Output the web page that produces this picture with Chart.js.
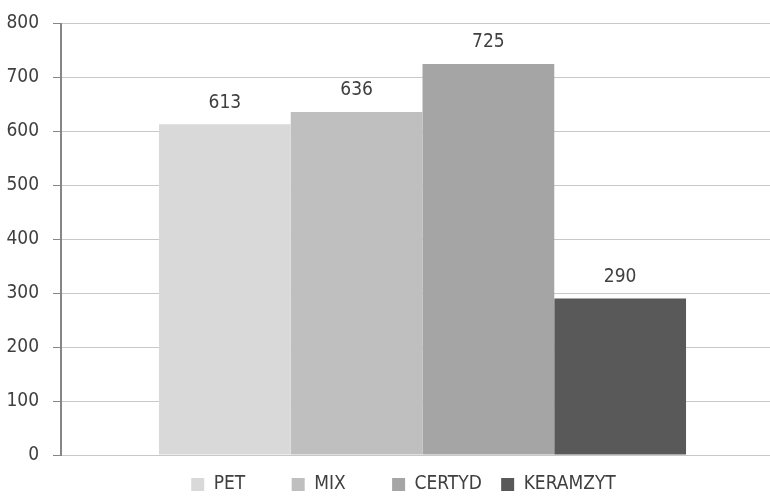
<!DOCTYPE html>
<html>
<head>
<meta charset="utf-8">
<script src="https://cdn.jsdelivr.net/npm/chart.js@4"></script>
<style>
  html, body { margin: 0; padding: 0; background: #fff; overflow: hidden; }
  /* plot area runs a little past the right and bottom edges, as in the reference */
  #wrap { width: 784px; height: 504px; }
</style>
</head>
<body>
<div id="wrap"><canvas id="myChart"></canvas></div>
<script>
// data
const categories = [""];
const seriesNames = ["PET", "MIX", "CERTYD", "KERAMZYT"];
const seriesValues = [613, 636, 725, 290];
const seriesColors = ["#d9d9d9", "#bfbfbf", "#a5a5a5", "#595959"];
const yTicks = [0, 100, 200, 300, 400, 500, 600, 700, 800];

const FONT = "'DejaVu Sans Condensed', 'Liberation Sans Narrow', sans-serif";
const TEXT = "#404040";
// extra room after each legend entry (Excel spaces them out wider)
const legendGaps = [8, 8, 3, 7];

// values above bars
const valueLabels = {
	id: "valueLabels",
	afterDatasetsDraw(chart) {
		const ctx = chart.ctx;
		ctx.save();
		ctx.font = "19px " + FONT;
		ctx.fillStyle = TEXT;
		ctx.textAlign = "center";
		ctx.textBaseline = "bottom";
		chart.data.datasets.forEach((ds, i) => {
			chart.getDatasetMeta(i).data.forEach((bar, j) => {
				ctx.fillText(ds.data[j], bar.x, bar.y - 12);
			});
		});
		ctx.restore();
	},
};

const datasets = seriesNames.map((name, i) => ({
	label: name,
	data: [seriesValues[i]],
	backgroundColor: seriesColors[i],
	borderWidth: 0,
	barPercentage: 1,
	categoryPercentage: 0.729,
}));

new Chart(document.getElementById("myChart"), {
	type: "bar",
	data: { labels: categories, datasets: datasets },
	plugins: [valueLabels],
	options: {
		responsive: true,
		maintainAspectRatio: false,
		animation: false,
		layout: { padding: { top: 3, right: 0, bottom: 0, left: 0 } },
		plugins: {
			tooltip: { enabled: false },
			legend: {
				position: "bottom",
				fullSize: false,
				labels: {
					boxWidth: 13,
					boxHeight: 13,
					padding: 3,
					color: TEXT,
					font: { family: FONT, size: 19 },
					generateLabels: (chart) => {
						const items = Chart.defaults.plugins.legend.labels.generateLabels(chart);
						items.forEach((it, i) => { it.text = it.text + " ".repeat(legendGaps[i]); });
						return items;
					},
				},
			},
		},
		scales: {
			x: {
				ticks: { display: false },
				grid: { display: false },
				border: { display: false },
				afterFit: (axis) => { axis.height = 17; },
			},
			y: {
				min: 0,
				max: 800,
				afterBuildTicks: (axis) => { axis.ticks = yTicks.map((v) => ({ value: v })); },
				afterFit: (axis) => { axis.width = 61; },
				ticks: {
					color: TEXT,
					padding: 14,
					font: { family: FONT, size: 19, lineHeight: 1 },
				},
				grid: {
					color: "#c8c8c8",
					tickColor: "#868686",
					tickLength: 8,
					lineWidth: 1,
				},
				border: { color: "#868686", width: 2 },
			},
		},
	},
});
</script>
</body>
</html>
